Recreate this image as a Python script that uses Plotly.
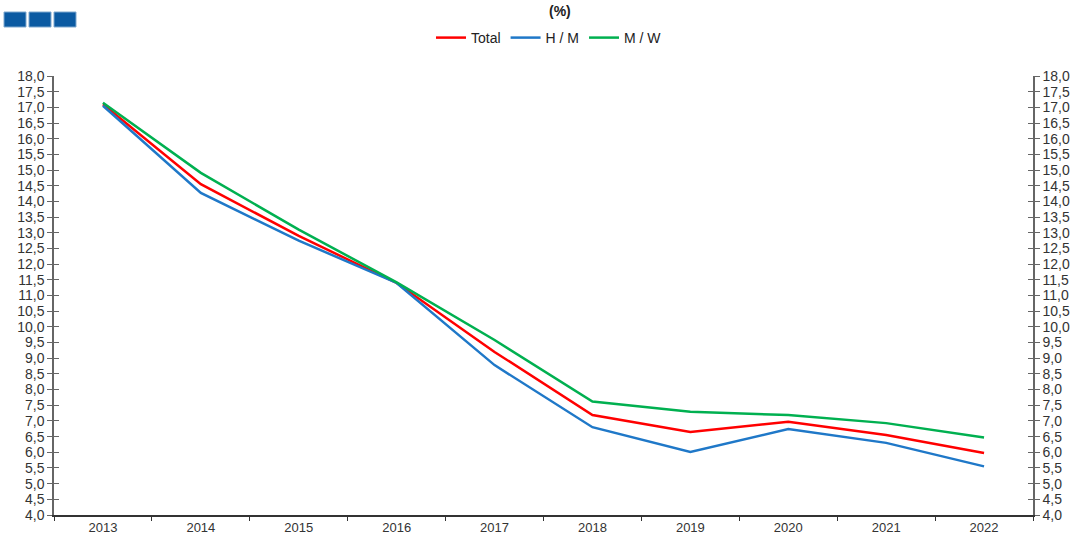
import plotly.graph_objects as go

years = ["2013", "2014", "2015", "2016", "2017", "2018", "2019", "2020", "2021", "2022"]
total = [17.10, 14.55, 12.90, 11.40, 9.20, 7.19, 6.65, 6.97, 6.55, 5.98]
men = [17.05, 14.27, 12.75, 11.40, 8.78, 6.80, 6.01, 6.74, 6.30, 5.55]
women = [17.15, 14.91, 13.10, 11.42, 9.58, 7.62, 7.29, 7.19, 6.93, 6.47]
series_names = ["Total", "H / M", "M / W"]
colors = ["#FF0000", "#1F78C8", "#00B050"]

W, H = 1078, 535
L, R, T, B = 54, 45, 76, 20
pw, ph = W - L - R, H - T - B

def px(x):
    return (x - L) / pw

def py(y):
    return (H - B - y) / ph

fig = go.Figure()
for name, vals, c in zip(series_names, [total, men, women], colors):
    fig.add_trace(go.Scatter(x=years, y=vals, name=name, mode="lines",
                             line=dict(color=c, width=2.5)))
for ax in ["y2", "y3", "y4"]:
    fig.add_trace(go.Scatter(x=years, y=total, yaxis=ax, showlegend=False,
                             mode="lines", line=dict(width=0), hoverinfo="skip"))

axis_font = dict(family="Liberation Sans, Arial, sans-serif", size=14, color="#333333")
xfont = dict(family="Liberation Sans, Arial, sans-serif", size=13, color="#333333")
ycommon = dict(range=[4, 18], dtick=0.5, tick0=4, tickformat=".1f", showgrid=False,
               zeroline=False, showline=True, linecolor="#666666", linewidth=1.5,
               ticks="outside", ticklen=5, tickcolor="#666666", tickfont=axis_font)
yinner = dict(range=[4, 18], dtick=0.5, tick0=4, showticklabels=False, showgrid=False,
              zeroline=False, ticks="inside", ticklen=5, tickcolor="#666666",
              overlaying="y", anchor="x", showline=False)

fig.update_layout(
    width=W, height=H,
    margin=dict(l=L, r=R, t=T, b=B, autoexpand=False),
    paper_bgcolor="white", plot_bgcolor="white",
    separators=", ",
    font=dict(family="Liberation Sans, Arial, sans-serif", size=14, color="#333333"),
    xaxis=dict(type="category", tickson="boundaries", ticks="outside", ticklen=4,
               tickcolor="#333333", showline=True, linecolor="#333333", linewidth=1.5,
               showgrid=False, tickfont=xfont, range=[-0.5, 9.5]),
    yaxis=dict(**ycommon, side="left"),
    yaxis2=dict(**ycommon, side="right", overlaying="y", anchor="x"),
    yaxis3=dict(**yinner, side="left"),
    yaxis4=dict(**yinner, side="right"),
    legend=dict(orientation="h", x=px(549), xanchor="center", y=py(38), yanchor="middle",
                font=dict(size=14, color="#222222"), itemwidth=30, bgcolor="rgba(0,0,0,0)"),
    showlegend=True,
)

fig.add_annotation(text="<b>(%)</b>", xref="paper", yref="paper", x=px(560), y=py(11),
                   xanchor="center", yanchor="middle",
                   showarrow=False, font=dict(size=14, color="#222222"))

for x0, x1 in [(4, 26), (29, 51), (54, 76)]:
    fig.add_shape(type="rect", xref="paper", yref="paper", x0=px(x0), x1=px(x1),
                  y0=py(27), y1=py(12), fillcolor="#0B5AA2", line=dict(color="#7FA8CF", width=1))

fig.write_html("out.html", config={"displayModeBar": False},
               post_script="document.body.style.margin='0';document.body.style.overflow='hidden';")
